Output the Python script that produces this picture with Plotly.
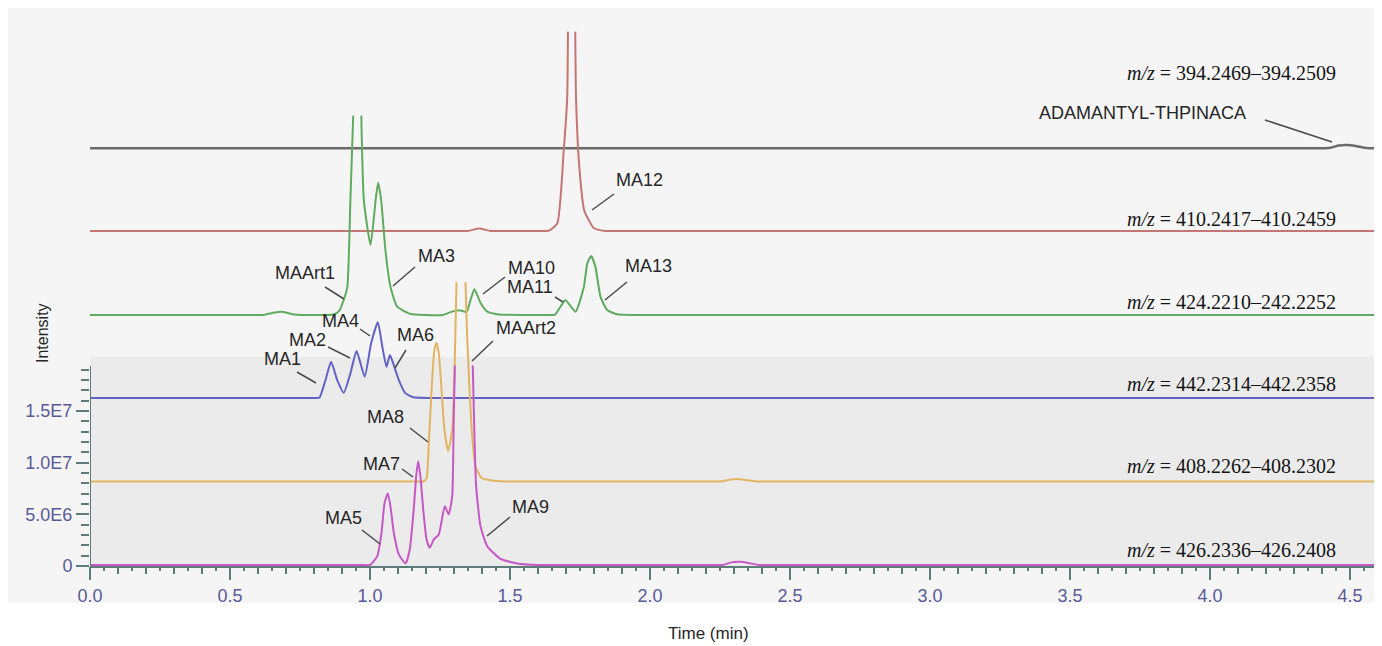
import plotly.graph_objects as go

# ---------------- data (intensity in units of 1e6 counts, relative to each trace baseline) ----------------
GRAY_T = [0, 2.0, 4.37, 4.40, 4.43, 4.46, 4.49, 4.52, 4.55, 4.57, 4.586]
GRAY_I = [0, 0, 0, 0, 0.05, 0.25, 0.3, 0.2, 0.05, 0, 0]

RED_T = [0, 1.30, 1.35, 1.39, 1.43, 1.48, 1.60, 1.64, 1.669, 1.692, 1.704, 1.707, 1.72,
         1.733, 1.736, 1.7475, 1.765, 1.80, 1.84, 1.88, 4.586]
RED_I = [0, 0, 0, 0.25, 0, 0, 0, 0.05, 0.75, 7.84, 12.7, 19.3, None,
         19.3, 12.7, 6.2, 2.0, 0.26, 0, 0, 0]

GREEN_T = [0, 0.58, 0.62, 0.66, 0.69, 0.73, 0.80, 0.87, 0.89, 0.906, 0.919, 0.930, 0.940, 0.955,
           0.969, 0.978, 1.002, 1.020, 1.029, 1.040, 1.055, 1.073, 1.097, 1.145, 1.20,
           1.26, 1.29, 1.32, 1.345, 1.359, 1.373, 1.395, 1.419, 1.46, 1.55,
           1.63, 1.66, 1.68, 1.698, 1.734, 1.764, 1.776, 1.790, 1.805, 1.823, 1.847, 1.883, 1.95,
           2.0, 4.586]
GREEN_I = [0, 0, 0, 0.25, 0.3, 0.05, 0, 0.05, 0.4, 1.45, 2.7, 11.1, 19.3, None,
           19.3, 11.1, 6.78, 11.1, 12.8, 11.1, 6.3, 2.74, 0.8, 0.1, 0,
           0, 0.3, 0.45, 0.3, 1.45, 2.5, 1.16, 0.32, 0.05, 0,
           0, 0.02, 0.8, 1.45, 0.32, 2.74, 5.0, 5.71, 4.68, 1.78, 0.48, 0.07, 0,
           0, 0]

BLUE_T = [0, 0.78, 0.81, 0.82, 0.841, 0.861, 0.883, 0.906, 0.930, 0.952, 0.981, 1.004, 1.028,
          1.044, 1.059, 1.071, 1.085, 1.103, 1.127, 1.156, 1.25, 1.30, 4.586]
BLUE_I = [0, 0, 0, 0.05, 1.74, 3.51, 1.74, 0.51, 2.39, 4.55, 2.06, 5.3, 7.33,
          4.97, 3.03, 4.16, 3.19, 1.74, 0.45, 0.07, 0, 0, 0]

ORANGE_T = [0, 1.16, 1.19, 1.202, 1.21, 1.222, 1.23, 1.2375, 1.2457, 1.254, 1.266, 1.279, 1.2936,
            1.302, 1.309, 1.325, 1.341, 1.347, 1.355, 1.365, 1.377, 1.40, 1.442, 1.50, 1.55,
            2.22, 2.25, 2.29, 2.31, 2.34, 2.38, 2.42, 4.586]
ORANGE_I = [0, 0, 0, 0.31, 3.7, 9.83, 12.73, 13.44, 12.4, 9.5, 4.99, 2.95, 4.99,
            10.8, 19.3, None, 19.3, 14.0, 9.18, 4.34, 1.43, 0.31, 0.08, 0, 0,
            0, 0, 0.2, 0.25, 0.15, 0, 0, 0]

MAG_T = [0, 0.97, 1.00, 1.026, 1.041, 1.052, 1.0636, 1.073, 1.085, 1.103, 1.127, 1.142, 1.156,
         1.165, 1.172, 1.18, 1.19, 1.202, 1.2136, 1.228, 1.2457, 1.267, 1.281, 1.2936,
         1.299, 1.303, 1.335, 1.367, 1.373, 1.379, 1.3946, 1.4186, 1.466, 1.526, 1.60, 1.65,
         2.22, 2.26, 2.29, 2.32, 2.35, 2.39, 2.43, 4.586]
MAG_I = [0, 0, 0, 0.85, 3.1, 6.0, 6.92, 5.69, 3.12, 1.02, 0.15, 1.5, 5.37,
         8.6, 10.05, 8.6, 5.37, 2.47, 1.66, 2.47, 2.95, 5.69, 4.89, 6.66,
         14.1, 19.3, None, 19.3, 12.5, 7.63, 3.76, 1.82, 0.6, 0.15, 0, 0,
         0, 0, 0.25, 0.3, 0.2, 0, 0, 0]

TRACE_NAMES = ["m/z = 394.2469–394.2509", "m/z = 410.2417–410.2459", "m/z = 424.2210–242.2252",
               "m/z = 442.2314–442.2358", "m/z = 408.2262–408.2302", "m/z = 426.2336–426.2408"]
OFFSETS = [40.45, 32.43, 24.3, 16.26, 8.18, 0.1]   # stacked baseline offsets (1e6)

Y_TICK_VALS = [0, 5e6, 1e7, 1.5e7]
Y_TICK_TEXT = ["0", "5.0E6", "1.0E7", "1.5E7"]

PEAK_LABELS = ["MAArt1", "MA3", "MA10", "MA11", "MA13", "MA12", "MA4", "MA2", "MA6", "MA1",
               "MAArt2", "MA8", "MA7", "MA5", "MA9", "ADAMANTYL-THPINACA"]

# ---------------- layout geometry (page pixels; the page body has an 8px margin) ----------------
BODY = 8
W, H = 1382 - BODY, 646 - BODY
X0, Y0, PXT, PXI = 90, 566, 280.0, 10.33      # page px of t=0 / intensity 0, px per min, px per 1e6
PLOT_W = 1374 - X0
PLOT_H = Y0 - 8

def tx(px):
    return (px - X0) / PXT
def iy(py):
    return (Y0 - py) / PXI * 1e6
def paper_x(px):
    return (px - X0) / PLOT_W
def paper_y(py):
    return (Y0 - py) / PLOT_H

LABEL_POS = [(305, 273), (436, 256), (531, 268), (530, 287), (648, 266), (639, 180),
             (340, 321), (307, 340), (415, 335), (282, 359), (526, 328), (385, 417),
             (381, 464), (343, 518), (530, 507), (1142, 113)]
LEADERS = [(325, 287, 344, 299), (415, 267, 393, 286), (505, 277, 483, 294), (555, 297, 563, 302),
           (627, 282, 605, 300), (614, 194, 592, 210), (360, 329, 370, 336), (328, 347, 350, 358),
           (406, 350, 395, 368), (297, 372, 316, 383), (493, 341, 472, 361), (410, 428, 428, 442),
           (402, 469, 413, 477), (362, 530, 380, 544), (510, 517, 487, 536), (1265, 120, 1332, 142)]
MZ_LABEL_Y = [73, 219, 302, 384, 466, 550]

COLORS = ["#6a6a6a", "#c47674", "#5fab5f", "#6262c4", "#e2b462", "#c658c6"]
AXIS_COLOR = "#5d7b79"
TICK_FONT_COLOR = "#5a5a96"
SANS = "Liberation Sans, Arial, sans-serif"

series = [(GRAY_T, GRAY_I), (RED_T, RED_I), (GREEN_T, GREEN_I),
          (BLUE_T, BLUE_I), (ORANGE_T, ORANGE_I), (MAG_T, MAG_I)]
WIDTHS = [2.5, 2, 2, 2, 2, 2]

fig = go.Figure()
for (t, v), off, col, name, w in zip(series, OFFSETS, COLORS, TRACE_NAMES, WIDTHS):
    y = [None if val is None else (val + off) * 1e6 for val in v]
    fig.add_trace(go.Scatter(x=t, y=y, mode="lines", name=name,
                             line=dict(color=col, width=w, shape="spline", smoothing=0.5),
                             connectgaps=False, hoverinfo="skip"))

# dummy trace so the secondary tick axis (0.1 min ticks) is rendered
fig.add_trace(go.Scatter(x=[0], y=[0], xaxis="x2", mode="lines",
                         line=dict(width=0), hoverinfo="skip", showlegend=False))

XMAX = PLOT_W / PXT
YMAX = PLOT_H / PXI * 1e6

shapes = [
    dict(type="rect", xref="paper", yref="paper", x0=paper_x(8), x1=1.0,
         y0=paper_y(603), y1=1.0, fillcolor="#f5f5f5", line=dict(width=0), layer="below"),
    dict(type="rect", xref="paper", yref="y", x0=0, x1=1, y0=0, y1=iy(357),
         fillcolor="#ebebeb", line=dict(width=0), layer="below"),
    dict(type="line", xref="x", yref="y", x0=0, x1=0, y0=0, y1=iy(366),
         line=dict(color=AXIS_COLOR, width=2)),
]
for (x0, y0, x1, y1) in LEADERS:
    shapes.append(dict(type="line", xref="x", yref="y", x0=tx(x0), y0=iy(y0), x1=tx(x1), y1=iy(y1),
                       line=dict(color="#4a4a4a", width=1.5)))

annotations = []
for txt, (px, py) in zip(PEAK_LABELS, LABEL_POS):
    annotations.append(dict(x=tx(px), y=iy(py), xref="x", yref="y", text=txt, showarrow=False,
                            xanchor="center", yanchor="middle",
                            font=dict(family=SANS, size=18, color="#262626")))
for name, py in zip(TRACE_NAMES, MZ_LABEL_Y):
    txt = name.replace("m/z", "<i>m/z</i>")
    annotations.append(dict(x=tx(1338), y=iy(py), xref="x", yref="y", text=txt, showarrow=False,
                            xanchor="right", yanchor="middle",
                            font=dict(family="Liberation Serif, Times New Roman, serif", size=20, color="#141414")))
annotations.append(dict(x=paper_x(42), y=paper_y(333), xref="paper", yref="paper",
                        text="Intensity", showarrow=False, textangle=-90,
                        xanchor="center", yanchor="middle",
                        font=dict(family=SANS, size=16, color="#262626")))
annotations.append(dict(x=paper_x(708), y=paper_y(633), xref="paper", yref="paper",
                        text="Time (min)", showarrow=False, xanchor="center", yanchor="middle",
                        font=dict(family=SANS, size=17, color="#262626")))

fig.update_layout(
    width=W, height=H,
    margin=dict(l=X0 - BODY, r=W - (1374 - BODY), t=0, b=H - (Y0 - BODY), pad=0),
    paper_bgcolor="white", plot_bgcolor="rgba(0,0,0,0)",
    showlegend=False,
    shapes=shapes, annotations=annotations,
    xaxis=dict(range=[0, XMAX], showline=True, linecolor=AXIS_COLOR, linewidth=2,
               ticks="outside", ticklen=12, tickwidth=1.5, tickcolor=AXIS_COLOR,
               tick0=0, dtick=0.5, tickformat=".1f", showgrid=False, zeroline=False,
               tickfont=dict(family=SANS, size=18, color=TICK_FONT_COLOR),
               minor=dict(ticks="outside", dtick=0.05, tick0=0, ticklen=3, tickwidth=1.5,
                          tickcolor=AXIS_COLOR, showgrid=False)),
    xaxis2=dict(range=[0, XMAX], overlaying="x", anchor="y", side="bottom", showline=False,
                ticks="outside", ticklen=7, tickwidth=1.5, tickcolor=AXIS_COLOR,
                tick0=0, dtick=0.1, showticklabels=False, showgrid=False, zeroline=False),
    yaxis=dict(range=[0, YMAX], showline=False, showgrid=False, zeroline=False,
               tickmode="array", tickvals=Y_TICK_VALS, ticktext=Y_TICK_TEXT,
               ticks="outside", ticklen=13, tickwidth=1.5, tickcolor=AXIS_COLOR,
               tickfont=dict(family=SANS, size=18, color=TICK_FONT_COLOR),
               minor=dict(ticks="outside", tickmode="array",
                          tickvals=[k * 1e6 for k in range(1, 20) if k % 5 != 0],
                          ticklen=8, tickwidth=1.5, tickcolor=AXIS_COLOR, showgrid=False)),
)

fig.write_html("out.html")
